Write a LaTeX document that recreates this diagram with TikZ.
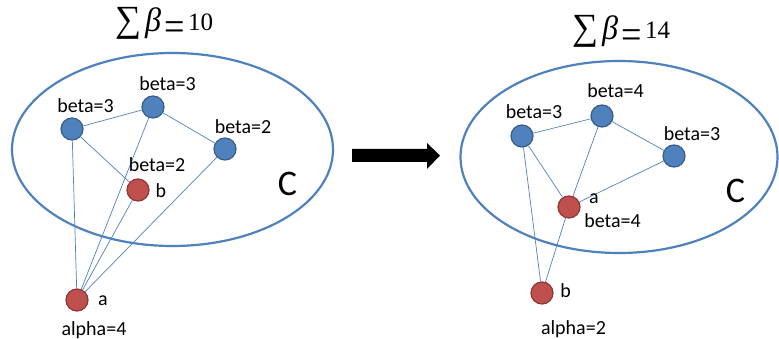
\documentclass[tikz,border=0pt]{standalone}
\usepackage{fontspec}
\setmainfont{Carlito}
\newfontfamily\ttlfont{Liberation Serif}
\definecolor{nodeblue}{HTML}{4F81BD}
\definecolor{nodeblueedge}{HTML}{385D8A}
\definecolor{nodered}{HTML}{C0504D}
\definecolor{noderededge}{HTML}{8C3836}
\tikzset{
  bnode/.style={circle, fill=nodeblue, draw=nodeblueedge, line width=1.2pt, minimum size=22pt, inner sep=0pt},
  rnode/.style={circle, fill=nodered, draw=noderededge, line width=1.2pt, minimum size=22pt, inner sep=0pt},
  lbl/.style={anchor=base, inner sep=0pt, font=\fontsize{20}{24}\selectfont},
  biglbl/.style={anchor=base, inner sep=0pt, font=\fontsize{36}{40}\selectfont},
  ttl/.style={inner sep=0pt, outer sep=0pt, font=\ttlfont\fontsize{25}{30}\selectfont},
  edge/.style={draw=nodeblue, line width=0.7pt},
  setc/.style={draw=nodeblue, line width=2.2pt},
}
\begin{document}
\begin{tikzpicture}[x=1pt, y=-1pt]
\useasboundingbox (0,0) rectangle (779,339);
% titles
\node[ttl, anchor=north west] (t1s) at (115,7) {\resizebox*{26pt}{32pt}{∑}};
\node[ttl, anchor=north west] (t1b) at (145,8) {\resizebox*{16pt}{31pt}{\itshape β}};
\node[ttl, anchor=north west] (t1e) at (164,22) {\scalebox{1.45}[1.65]{=}};
\node[ttl, anchor=base west] (t1n) at (188,31) {10};
\node[ttl, anchor=north west] (t2s) at (572,15) {\resizebox*{26pt}{32pt}{∑}};
\node[ttl, anchor=north west] (t2b) at (602,16) {\resizebox*{16pt}{31pt}{\itshape β}};
\node[ttl, anchor=north west] (t2e) at (621,30) {\scalebox{1.45}[1.65]{=}};
\node[ttl, anchor=base west] (t2n) at (645,39) {14};
% ellipses
\draw[setc] (172.5,149.5) ellipse [x radius=160.5, y radius=96.5];
\draw[setc] (619,157) ellipse [x radius=158.5, y radius=96];
% left graph
\node[bnode] (l1) at (72,129) {};
\node[bnode] (l2) at (153,107) {};
\node[bnode] (l3) at (225,149) {};
\node[rnode] (lb) at (138,190) {};
\node[rnode] (la) at (77,300) {};
\draw[edge] (l1) -- (l2);
\draw[edge] (l2) -- (l3);
\draw[edge] (l1) -- (lb);
\draw[edge] (l1) -- (la);
\draw[edge] (l2) -- (la);
\draw[edge] (lb) -- (la);
\draw[edge] (l3) -- (la);
\node[lbl] (l1t) at (85.5,113) {beta=3};
\node[lbl] (l2t) at (167.5,91) {beta=3};
\node[lbl] (l3t) at (243,134) {beta=2};
\node[lbl] (lbt) at (157,172) {beta=2};
\node[lbl] (lbn) at (161,198) {b};
\node[lbl] (lan) at (103,305) {a};
\node[lbl] (lal) at (94,335) {alpha=4};
\node[biglbl] (lc) at (287.5,196) {C};
% arrow
\fill (352,149) -- (427,149) -- (427,143) -- (440,155.5) -- (427,169) -- (427,162) -- (352,162) -- cycle;
% right graph
\node[bnode] (r1) at (522,136) {};
\node[bnode] (r2) at (602,116) {};
\node[bnode] (r3) at (674,156) {};
\node[rnode] (ra) at (569,207) {};
\node[rnode] (rb) at (542,293) {};
\draw[edge] (r1) -- (r2);
\draw[edge] (r2) -- (r3);
\draw[edge] (r1) -- (ra);
\draw[edge] (r2) -- (ra);
\draw[edge] (r3) -- (ra);
\draw[edge] (r1) -- (rb);
\draw[edge] (ra) -- (rb);
\node[lbl] (r1t) at (534,119) {beta=3};
\node[lbl] (r2t) at (615.5,98) {beta=4};
\node[lbl] (r3t) at (692,141) {beta=3};
\node[lbl] (ran) at (594,204) {a};
\node[lbl] (rat) at (612.5,228) {beta=4};
\node[lbl] (rbn) at (565.5,297) {b};
\node[lbl] (ral) at (573.5,334) {alpha=2};
\node[biglbl] (rc) at (735.5,203) {C};
\end{tikzpicture}
\end{document}
